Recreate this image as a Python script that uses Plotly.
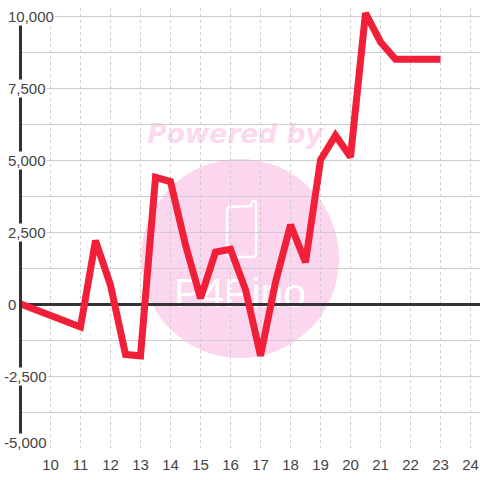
import plotly.graph_objects as go

x_values = [9, 11, 11.5, 12, 12.5, 13, 13.5, 14, 14.5, 15, 15.5, 16, 16.5, 17, 17.5, 18, 18.5, 19, 19.5, 20, 20.5, 21, 21.5, 22, 22.5, 23]
y_values = [0, -800, 2200, 650, -1750, -1800, 4400, 4250, 2050, 200, 1800, 1900, 500, -1800, 750, 2750, 1450, 5000, 5850, 5100, 10100, 9100, 8500, 8500, 8500, 8500]
y_tick_values = [10000, 7500, 5000, 2500, 0, -2500, -5000]
y_tick_labels = ["10,000", "7,500", "5,000", "2,500", "0", "-2,500", "-5,000"]

L, R, T, B = 22, 480, 8, 448
PW, PH = R - L, B - T
def px(v): return (v - L) / PW
def py(v): return (B - v) / PH

INK = "#444444"
GRID = "#cccccc"
PINK = "#fbd6ee"
FONT = "Liberation Sans"

fig = go.Figure(go.Scatter(
    x=x_values, y=y_values, mode="lines", cliponaxis=False,
    line=dict(color="#f11f38", width=7, shape="linear"),
    hoverinfo="skip",
))

shapes = [
    dict(type="circle", xref="paper", yref="paper", layer="below",
         x0=px(141), x1=px(339), y0=py(358), y1=py(159),
         fillcolor=PINK, line=dict(width=0)),
    dict(type="path", xref="paper", yref="paper", layer="below",
         path=(f"M {px(230)} {py(207)} L {px(251)} {py(206)} Q {px(252)} {py(201)} {px(254)} {py(201)} "
               f"Q {px(256)} {py(201)} {px(256)} {py(204)} L {px(256)} {py(253)} "
               f"Q {px(256)} {py(257)} {px(252)} {py(257)} L {px(231)} {py(257)} "
               f"Q {px(227)} {py(257)} {px(227)} {py(253)} L {px(227)} {py(210)} "
               f"Q {px(227)} {py(207)} {px(230)} {py(207)} Z"),
         fillcolor="rgba(0,0,0,0)", line=dict(color="#ffffff", width=2.5)),
    dict(type="rect", xref="paper", yref="paper", layer="below",
         x0=px(140), x1=px(330), y0=py(148), y1=py(116),
         fillcolor="rgba(0,0,0,0)", line=dict(width=0),
         label=dict(text="<b><i>Powered by</i></b>", textposition="middle center",
                    font=dict(family="DejaVu Sans", size=26.5, color="#fcd9ef"))),
    dict(type="rect", xref="paper", yref="paper", layer="below",
         x0=px(160), x1=px(320), y0=py(309), y1=py(269),
         fillcolor="rgba(0,0,0,0)", line=dict(width=0),
         label=dict(text="P4Pino", textposition="middle center",
                    font=dict(family=FONT, size=41, color="#ffffff"))),
    # white band keeps the vertical grid from rising above the 10,000 line
    dict(type="rect", xref="paper", yref="paper", layer="between",
         x0=0, x1=1, y0=py(15.4), y1=1,
         fillcolor="#ffffff", line=dict(width=0)),
]

annotations = []
for value, label in zip(y_tick_values, y_tick_labels):
    annotations.append(dict(
        xref="paper", yref="y", x=px(3 if label.startswith("-") else 7), y=value,
        text=label, showarrow=False, xanchor="left", yanchor="middle",
        yshift=6 if value == -5000 else 0,
        bgcolor="#ffffff", borderpad=0,
        font=dict(family=FONT, size=15, color=INK),
    ))

fig.update_layout(
    width=480, height=480, autosize=False,
    margin=dict(l=L, r=480 - R, t=T, b=480 - B, pad=0),
    paper_bgcolor="#ffffff", plot_bgcolor="rgba(0,0,0,0)",
    showlegend=False, shapes=shapes, annotations=annotations,
    xaxis=dict(
        range=[10 - 28.5 / 30, 10 + 429.5 / 30], tick0=10, dtick=1, tickmode="linear",
        showgrid=True, gridcolor=GRID, gridwidth=1, griddash="3px,3px",
        zeroline=False, showline=False,
        ticks="outside", ticklen=3, tickcolor="rgba(0,0,0,0)",
        tickfont=dict(family=FONT, size=15, color=INK),
    ),
    yaxis=dict(
        range=[-5000, 10000 + 8 * 2500 / 72], tick0=-5000, dtick=1250, tickmode="linear",
        showgrid=True, gridcolor=GRID, gridwidth=1.3,
        zeroline=True, zerolinecolor="#333333", zerolinewidth=3,
        showline=True, linecolor="#333333", linewidth=3,
        showticklabels=False, ticks="",
    ),
)

fig.write_html("out.html", config=dict(displayModeBar=False),
               post_script="document.body.style.margin='0';document.documentElement.style.overflow='hidden';")
